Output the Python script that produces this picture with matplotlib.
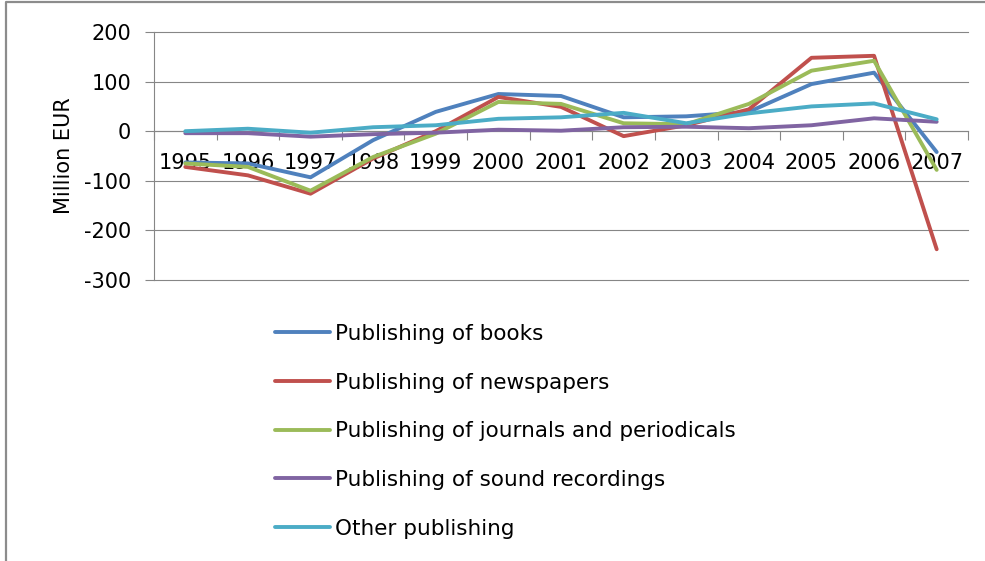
import matplotlib
matplotlib.use("Agg")
import matplotlib.pyplot as plt
from matplotlib.lines import Line2D
import numpy as np

years = ["1995", "1996", "1997", "1998", "1999", "2000", "2001",
         "2002", "2003", "2004", "2005", "2006", "2007"]
books = [-63, -65, -93, -18, 39, 75, 71, 28, 30, 39, 95, 118, -42]
newspapers = [-72, -89, -126, -55, 0, 69, 49, -10, 12, 44, 148, 152, -238]
journals = [-65, -72, -120, -52, -5, 59, 55, 16, 14, 55, 122, 142, -78]
sound = [-4, -4, -11, -6, -3, 3, 1, 8, 9, 6, 12, 26, 19]
other = [0, 5, -3, 8, 12, 25, 28, 37, 16, 36, 50, 56, 24]

series = [
    ("Publishing of books", books, "#4F81BD"),
    ("Publishing of newspapers", newspapers, "#C0504D"),
    ("Publishing of journals and periodicals", journals, "#9BBB59"),
    ("Publishing of sound recordings", sound, "#8064A2"),
    ("Other publishing", other, "#4BACC6"),
]

plt.rcParams['font.family'] = ['DejaVu Sans']
plt.rcParams['axes.unicode_minus'] = False
FS = 15
FSL = 15.5
W, H = 985, 561
fig = plt.figure(figsize=(W / 100, H / 100), dpi=100)
ax = fig.add_axes([154 / W, 1 - 280 / H, (968 - 154) / W, (280 - 32) / H])

x = np.arange(len(years))
handles = []
for name, vals, col in series:
    ln, = ax.plot(x, vals, color=col, lw=2.8, label=name, zorder=3,
                  solid_capstyle='round', solid_joinstyle='round', clip_on=False)
    handles.append(ln)

grid_col = "#868686"
ax.set_ylim(-300, 200)
ax.set_yticks([-300, -200, -100, 0, 100, 200])
ax.set_xlim(-0.5, len(years) - 0.5)
ax.yaxis.grid(True, color=grid_col, lw=0.8)
ax.set_axisbelow(True)
for gl in ax.get_ygridlines():
    gl.set_clip_on(False)
for s in ["top", "right"]:
    ax.spines[s].set_visible(False)
ax.spines["left"].set_color(grid_col)
ax.spines["left"].set_linewidth(0.8)
ax.spines["bottom"].set_position(("data", 0))
ax.spines["bottom"].set_color(grid_col)
ax.spines["bottom"].set_linewidth(0.8)

ax.tick_params(axis='y', direction='out', length=6.5, width=0.8, color=grid_col,
               labelsize=FS, pad=10)
ax.set_xticks(x)
ax.set_xticklabels(years)
ax.set_xticks(np.arange(len(years) + 1) - 0.5, minor=True)
ax.tick_params(axis='x', which='major', length=0, labelsize=FS, pad=16)
ax.tick_params(axis='x', which='minor', direction='out', length=6.5, width=0.8,
               color=grid_col)
ax.set_ylabel("Million EUR", fontsize=FS, labelpad=7)

fig.legend(handles=handles, loc='upper left',
           bbox_to_anchor=(275 / W, 1 - 324 / H), frameon=False,
           fontsize=FSL, handlelength=2.55, handletextpad=0.25,
           labelspacing=1.33, borderpad=0, borderaxespad=0)

# outer frame (left and top edges visible)
fig.add_artist(Line2D([6 / W, 6 / W, 1], [0, 1 - 2 / H, 1 - 2 / H],
                      transform=fig.transFigure, color="#8c8c8c", lw=1.6))

fig.savefig("out.png", dpi=100)
